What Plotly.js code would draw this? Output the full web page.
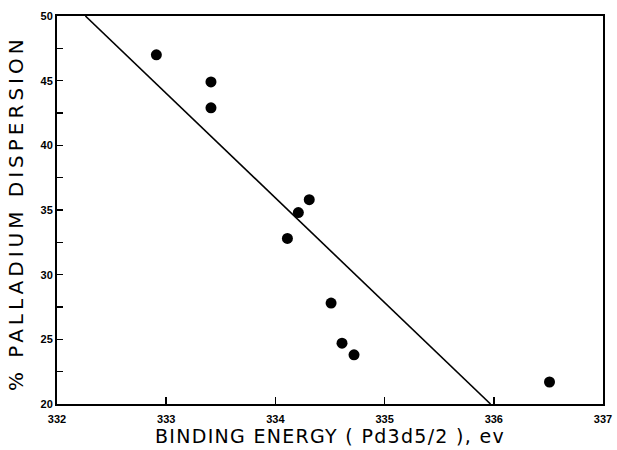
<!DOCTYPE html>
<html>
<head>
<meta charset="utf-8">
<script src="https://cdn.plot.ly/plotly-3.0.1.min.js"></script>
<style>
body{margin:0;background:#fff}
#chart{width:617px;height:450px}
#chart .xtitle{letter-spacing:1.3px}
#chart .annotation-text{letter-spacing:4px}
</style>
</head>
<body>
<div id="chart"></div>
<script>
// Measured points
const bindingEnergy = [332.91, 333.41, 333.41, 334.31, 334.21, 334.11, 334.51, 334.61, 334.72, 336.51];
const dispersion = [47.0, 44.9, 42.9, 35.8, 34.8, 32.8, 27.8, 24.7, 23.8, 21.7];
// Fitted line endpoints
const fitX = [332.26, 335.97];
const fitY = [50, 20];
const xTicks = [332, 333, 334, 335, 336, 337];
const yTicks = [20, 25, 30, 35, 40, 45, 50];
const xTitle = 'BINDING ENERGY ( Pd3d5/2 ), ev';
const yTitle = '% PALLADIUM DISPERSION';

const traces = [
  {x: fitX, y: fitY, mode: 'lines', line: {color: '#000', width: 1.6}, hoverinfo: 'skip'},
  {x: bindingEnergy, y: dispersion, mode: 'markers', marker: {color: '#000', size: 11}}
];

const tickFont = {family: 'Liberation Sans, Arial, sans-serif', size: 11, color: '#000', weight: 'bold'};
const titleFont = {family: 'DejaVu Sans, sans-serif', size: 19, color: '#000'};
const yTitleFont = {family: 'DejaVu Sans, sans-serif', size: 20, color: '#000'};

const layout = {
  width: 617, height: 450,
  margin: {l: 57, r: 14, t: 16, b: 46},
  paper_bgcolor: '#fff', plot_bgcolor: '#fff',
  showlegend: false,
  xaxis: {
    range: [332, 337], tickvals: xTicks, ticktext: xTicks.map(String),
    showgrid: false, zeroline: false, automargin: false,
    showline: true, linecolor: '#000', linewidth: 2, mirror: true,
    ticks: 'inside', ticklen: 7, tickwidth: 1.5, tickcolor: '#000',
    tickfont: tickFont, ticklabelstandoff: 4,
    title: {text: xTitle, font: titleFont, standoff: 3}
  },
  yaxis: {
    range: [20, 50], tickvals: yTicks, ticktext: yTicks.map(String),
    showgrid: false, zeroline: false, automargin: false,
    showline: true, linecolor: '#000', linewidth: 2, mirror: true,
    ticks: 'inside', ticklen: 0, tickcolor: '#000',
    minor: {dtick: 2.5, tick0: 22.5, ticks: 'inside', ticklen: 6, tickwidth: 1.2, tickcolor: '#000', showgrid: false},
    tickfont: tickFont
  },
  annotations: [{
    text: yTitle, xref: 'paper', yref: 'paper', x: 0, y: 0.5,
    xanchor: 'center', yanchor: 'middle', xshift: -41, yshift: -3, textangle: -90,
    showarrow: false, font: yTitleFont
  }]
};

Plotly.newPlot('chart', traces, layout, {displayModeBar: false, staticPlot: true});
</script>
</body>
</html>
